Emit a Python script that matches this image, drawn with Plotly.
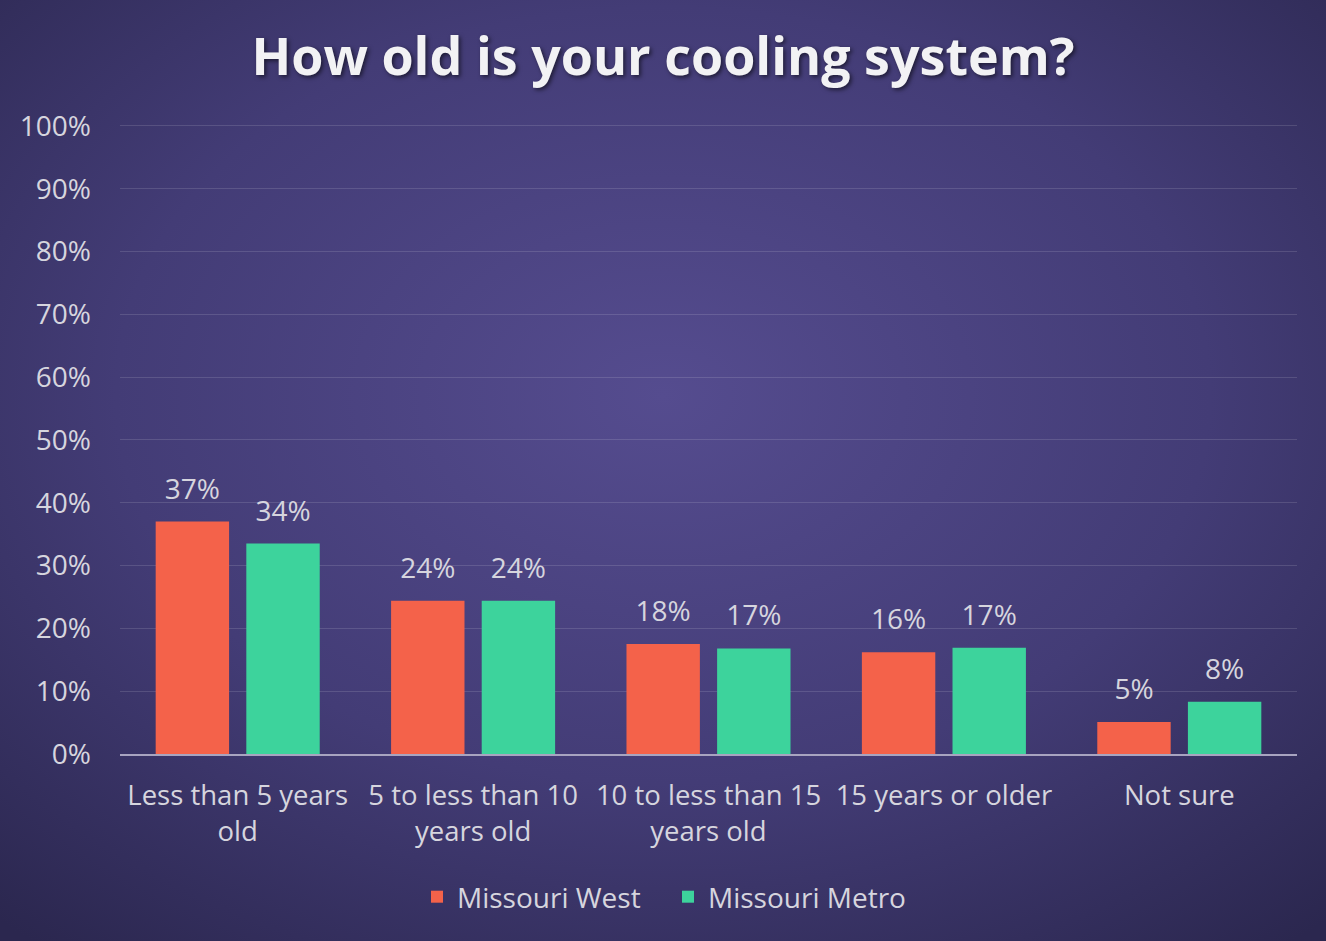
import base64
import plotly.graph_objects as go

# ── data ───────────────────────────────────────────────────────────────────
CATEGORIES = [
    "Less than 5 years<br>old",
    "5 to less than 10<br>years old",
    "10 to less than 15<br>years old",
    "15 years or older",
    "Not sure",
]
WEST  = [37.0, 24.4, 17.5, 16.2, 5.1]
METRO = [33.5, 24.4, 16.8, 16.9, 8.3]
WEST_LABELS  = ["37%", "24%", "18%", "16%", "5%"]
METRO_LABELS = ["34%", "24%", "17%", "17%", "8%"]

# ── colours ────────────────────────────────────────────────────────────────
RED   = "#f4624a"
GREEN = "#3dd39c"
TEXT  = "#d6d5de"
FONT  = "Open Sans"
SIZE  = 28

# radial background as an svg data uri
_svg = """<svg xmlns='http://www.w3.org/2000/svg' width='1326' height='941'>
<defs><radialGradient id='g' cx='0.5' cy='0.42' r='0.75'>
<stop offset='0' stop-color='#554c8f'/>
<stop offset='0.55' stop-color='#433c76'/>
<stop offset='1' stop-color='#2b274f'/>
</radialGradient></defs>
<rect width='1326' height='941' fill='url(#g)'/></svg>"""
BG = "data:image/svg+xml;base64," + base64.b64encode(_svg.encode()).decode()

fig = go.Figure()

for name, vals, labels, col in [
    ("Missouri West", WEST, WEST_LABELS, RED),
    ("Missouri Metro", METRO, METRO_LABELS, GREEN),
]:
    fig.add_trace(go.Bar(
        x=CATEGORIES, y=vals, name=name,
        marker=dict(color=col, line=dict(width=0)),
        hoverinfo="skip",
    ))

# value labels as grouped text scatters so they sit a bit higher
for name, vals, labels in [
    ("Missouri West", WEST, WEST_LABELS),
    ("Missouri Metro", METRO, METRO_LABELS),
]:
    fig.add_trace(go.Scatter(
        x=CATEGORIES, y=vals, name=name + " labels",
        mode="markers+text",
        marker=dict(size=24, color="rgba(0,0,0,0)"),
        text=labels, textposition="top center",
        textfont=dict(size=SIZE, color=TEXT, family=FONT),
        showlegend=False, hoverinfo="skip", cliponaxis=False,
    ))

fig.update_layout(
    width=1326, height=941,
    paper_bgcolor="#3e376c",
    plot_bgcolor="rgba(0,0,0,0)",
    font=dict(family=FONT, color=TEXT, size=SIZE),
    margin=dict(l=120, r=29, t=124, b=187, autoexpand=False),
    title=dict(
        text="<b>How old is your cooling system?</b>",
        x=0.5, xanchor="center", y=1 - 57 / 941, yanchor="middle",
        font=dict(size=52, color="#f2f2f4", family=FONT,
                  shadow="2px 2px 4px rgba(0,0,0,0.55)"),
    ),
    images=[dict(
        source=BG, xref="paper", yref="paper",
        x=-120 / 1177, y=1 + 124 / 630,
        sizex=1326 / 1177, sizey=941 / 630,
        xanchor="left", yanchor="top",
        sizing="stretch", layer="below",
    )],
    barmode="group",
    bargap=0.23,
    bargroupgap=0.19,
    scattermode="group",
    scattergap=0.23,
    xaxis=dict(
        showgrid=False, zeroline=False,
        showline=True, linecolor="#a8a4c0", linewidth=2,
        tickfont=dict(size=27.5, color=TEXT),
        ticks="", ticklabelstandoff=16,
    ),
    yaxis=dict(
        range=[0, 100.3], dtick=10, ticksuffix="%",
        gridcolor="rgba(255,255,255,0.13)", gridwidth=1,
        zeroline=False, showline=False,
        tickfont=dict(size=SIZE, color=TEXT),
        ticklabelstandoff=28,
    ),
    legend=dict(
        orientation="h", x=(417 - 120) / 1177, xanchor="left",
        y=-143 / 630, yanchor="middle",
        font=dict(size=SIZE, color=TEXT),
        bgcolor="rgba(0,0,0,0)",
        entrywidth=206,
        traceorder="normal",
    ),
    showlegend=True,
)

fig.write_html(
    "out.html",
    config={"displayModeBar": False},
    post_script="document.body.style.margin='0';",
)
